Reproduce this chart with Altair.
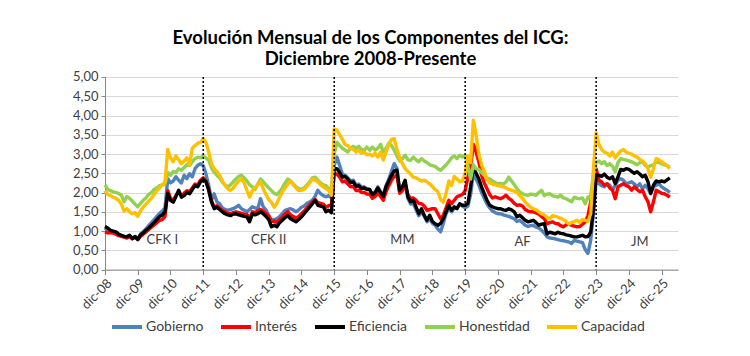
import json
import altair as alt
import pandas as pd

TITLE = ["Evolución Mensual de los Componentes del ICG:", "Diciembre 2008-Presente"]
SERIES = ["Gobierno", "Interés", "Eficiencia", "Honestidad", "Capacidad"]
COLORS = ["#4F81BD", "#FF0000", "#000000", "#92D050", "#FFC000"]
YEAR_TICKS = ["dic-08", "dic-09", "dic-10", "dic-11", "dic-12", "dic-13", "dic-14", "dic-15", "dic-16",
              "dic-17", "dic-18", "dic-19", "dic-20", "dic-21", "dic-22", "dic-23", "dic-24", "dic-25"]
PERIODS = ["CFK I", "CFK II", "MM", "AF", "JM"]
PERIOD_MONTH = [21, 60, 109, 153, 196]
PERIOD_VALUE = [0.76, 0.76, 0.78, 0.72, 0.72]
CHANGE_MONTHS = [36, 84, 132, 180]

# monthly values, dic-08 then ene..dic of each year 2009-2025, then ene-mar 2026
gobierno = [1.08,
    1.02, 1.00, 0.98, 0.96, 0.90, 0.88, 0.86, 0.84, 0.88, 0.82, 0.86, 0.80,
    0.92, 0.98, 1.06, 1.14, 1.22, 1.30, 1.38, 1.46, 1.52, 1.60, 2.36, 2.25,
    2.30, 2.41, 2.32, 2.25, 2.45, 2.36, 2.49, 2.41, 2.62, 2.71, 2.75, 2.70,
    2.48, 2.19, 1.80, 1.97, 1.76, 1.71, 1.60, 1.56, 1.54, 1.56, 1.58, 1.62,
    1.67, 1.58, 1.54, 1.50, 1.56, 1.63, 1.60, 1.58, 1.84, 1.63, 1.55, 1.40,
    1.28, 1.30, 1.32, 1.38, 1.45, 1.54, 1.56, 1.58, 1.55, 1.50, 1.55, 1.62,
    1.65, 1.72, 1.75, 1.80, 1.90, 2.06, 1.97, 1.92, 1.89, 1.92, 1.86, 2.70,
    2.92, 2.70, 2.48, 2.45, 2.38, 2.30, 2.32, 2.20, 2.22, 2.14, 2.15, 2.10,
    2.08, 1.95, 2.02, 2.15, 2.02, 1.95, 2.18, 2.35, 2.55, 2.75, 2.62, 2.00,
    2.10, 2.25, 1.85, 1.70, 1.72, 1.55, 1.40, 1.50, 1.38, 1.24, 1.32, 1.20,
    1.15, 1.05, 0.98, 1.20, 1.45, 1.60, 1.50, 1.58, 1.60, 1.70, 1.65, 1.60,
    1.65, 1.95, 2.50, 2.35, 2.20, 2.00, 1.85, 1.70, 1.60, 1.52, 1.48, 1.45,
    1.45, 1.42, 1.40, 1.38, 1.35, 1.32, 1.25, 1.28, 1.22, 1.15, 1.12, 1.14,
    1.15, 1.10, 1.08, 1.02, 0.95, 0.85, 0.82, 0.81, 0.80, 0.78, 0.76, 0.75,
    0.73, 0.72, 0.68, 0.76, 0.74, 0.72, 0.70, 0.52, 0.42, 0.76, 1.45, 2.30,
    2.23, 2.18, 2.15, 2.23, 2.19, 2.06, 2.19, 2.32, 2.36, 2.32, 2.23, 2.25,
    2.28, 2.22, 2.15, 2.23, 2.10, 2.19, 2.10, 1.97, 2.15, 2.19, 2.23, 2.15,
    2.10, 2.06, 2.00]

interes = [0.98,
    0.95, 0.96, 0.95, 0.92, 0.88, 0.86, 0.84, 0.82, 0.86, 0.80, 0.84, 0.78,
    0.86, 0.92, 0.98, 1.04, 1.10, 1.16, 1.22, 1.28, 1.30, 1.38, 2.05, 1.85,
    1.80, 1.92, 2.02, 1.92, 1.98, 2.05, 2.02, 2.12, 2.22, 2.20, 2.32, 2.38,
    2.30, 2.10, 1.80, 1.62, 1.66, 1.60, 1.54, 1.50, 1.46, 1.45, 1.48, 1.50,
    1.48, 1.46, 1.44, 1.43, 1.32, 1.50, 1.48, 1.52, 1.56, 1.52, 1.45, 1.40,
    1.25, 1.26, 1.22, 1.30, 1.36, 1.44, 1.50, 1.42, 1.38, 1.34, 1.38, 1.45,
    1.52, 1.60, 1.68, 1.76, 1.82, 1.74, 1.72, 1.70, 1.62, 1.66, 1.68, 2.50,
    2.48, 2.40, 2.28, 2.30, 2.22, 2.15, 2.16, 2.05, 2.06, 2.00, 2.00, 1.96,
    1.96, 1.85, 1.90, 2.00, 1.90, 1.80, 2.02, 2.18, 2.32, 2.42, 2.45, 1.98,
    2.05, 2.20, 1.95, 1.84, 1.86, 1.80, 1.72, 1.71, 1.65, 1.54, 1.56, 1.58,
    1.58, 1.45, 1.32, 1.41, 1.60, 1.80, 1.71, 1.80, 1.89, 1.92, 1.95, 2.05,
    2.40, 2.67, 3.25, 3.05, 2.80, 2.45, 2.25, 2.10, 1.95, 1.86, 1.89, 1.86,
    1.84, 1.88, 1.93, 1.85, 1.80, 1.72, 1.67, 1.68, 1.65, 1.56, 1.52, 1.50,
    1.50, 1.47, 1.44, 1.38, 1.32, 1.19, 1.22, 1.24, 1.20, 1.19, 1.14, 1.11,
    1.16, 1.19, 1.15, 1.13, 1.11, 1.12, 1.18, 1.24, 1.40, 1.75, 2.20, 2.62,
    2.32, 2.28, 2.19, 2.23, 2.12, 2.06, 1.84, 2.15, 2.19, 2.23, 2.18, 2.15,
    2.06, 2.15, 2.08, 2.02, 2.06, 1.89, 1.76, 1.50, 1.76, 2.06, 2.02, 1.98,
    1.97, 1.93, 1.88]

eficiencia = [1.12,
    1.08, 1.02, 1.00, 0.98, 0.92, 0.89, 0.86, 0.85, 0.89, 0.80, 0.86, 0.78,
    0.90, 0.95, 1.02, 1.08, 1.15, 1.22, 1.30, 1.38, 1.42, 1.50, 1.98, 1.80,
    1.75, 1.90, 2.06, 1.88, 1.92, 2.00, 1.97, 2.08, 2.18, 2.15, 2.28, 2.34,
    2.28, 2.06, 1.76, 1.58, 1.62, 1.56, 1.50, 1.45, 1.42, 1.40, 1.44, 1.45,
    1.42, 1.40, 1.38, 1.37, 1.24, 1.45, 1.42, 1.45, 1.50, 1.45, 1.38, 1.30,
    1.11, 1.15, 1.11, 1.22, 1.28, 1.35, 1.40, 1.32, 1.28, 1.24, 1.30, 1.37,
    1.45, 1.54, 1.62, 1.71, 1.80, 1.67, 1.65, 1.63, 1.50, 1.54, 1.48, 2.62,
    2.62, 2.52, 2.40, 2.42, 2.35, 2.26, 2.28, 2.16, 2.18, 2.10, 2.12, 2.08,
    2.08, 1.95, 2.00, 2.12, 2.00, 1.90, 2.15, 2.30, 2.45, 2.56, 2.58, 2.06,
    2.15, 2.32, 1.89, 1.76, 1.80, 1.63, 1.45, 1.58, 1.41, 1.28, 1.41, 1.25,
    1.19, 1.15, 1.20, 1.32, 1.50, 1.67, 1.54, 1.63, 1.58, 1.71, 1.67, 1.67,
    1.72, 2.15, 2.68, 2.50, 2.36, 2.15, 1.97, 1.80, 1.67, 1.63, 1.60, 1.58,
    1.58, 1.55, 1.54, 1.58, 1.55, 1.50, 1.37, 1.41, 1.35, 1.28, 1.24, 1.26,
    1.28, 1.22, 1.15, 1.18, 1.19, 0.93, 0.97, 0.95, 0.93, 0.97, 0.94, 0.93,
    0.90, 0.89, 0.87, 0.85, 0.85, 0.87, 0.89, 0.85, 0.86, 0.97, 1.55, 2.45,
    2.45, 2.42, 2.48, 2.40, 2.36, 2.41, 2.23, 2.41, 2.60, 2.58, 2.62, 2.60,
    2.55, 2.50, 2.54, 2.48, 2.41, 2.45, 2.28, 1.98, 2.19, 2.30, 2.28, 2.30,
    2.28, 2.33, 2.38]

honestidad = [2.20,
    2.08, 2.05, 2.02, 2.00, 1.98, 1.93, 1.76, 1.90, 1.85, 1.78, 1.70, 1.63,
    1.72, 1.80, 1.86, 1.95, 2.00, 2.08, 2.12, 2.18, 2.20, 2.22, 2.52, 2.45,
    2.55, 2.52, 2.62, 2.58, 2.65, 2.72, 2.70, 2.80, 2.88, 2.92, 2.90, 2.95,
    2.90, 2.84, 2.65, 2.53, 2.45, 2.38, 2.28, 2.20, 2.15, 2.20, 2.28, 2.35,
    2.42, 2.45, 2.38, 2.30, 2.20, 2.15, 2.08, 2.22, 2.35, 2.28, 2.20, 2.12,
    2.05, 1.98, 1.95, 2.02, 2.12, 2.25, 2.35, 2.30, 2.22, 2.15, 2.10, 2.08,
    2.12, 2.20, 2.28, 2.38, 2.40, 2.32, 2.25, 2.20, 2.18, 2.10, 2.05, 3.00,
    3.30, 3.22, 3.15, 3.10, 3.05, 3.15, 3.20, 3.15, 3.20, 3.12, 3.10, 3.18,
    3.10, 3.18, 3.10, 3.15, 3.25, 3.05, 3.15, 3.28, 3.22, 3.10, 2.95, 2.82,
    2.88, 2.97, 2.85, 2.84, 2.92, 2.85, 2.80, 2.88, 2.82, 2.78, 2.72, 2.70,
    2.68, 2.62, 2.58, 2.65, 2.72, 2.80, 2.90, 2.95, 2.88, 2.97, 2.92, 2.97,
    2.70, 2.35, 2.72, 2.62, 2.60, 2.52, 2.45, 2.38, 2.35, 2.30, 2.26, 2.23,
    2.24, 2.22, 2.28, 2.40, 2.30, 2.20, 2.10, 2.02, 1.97, 1.94, 1.93, 1.96,
    1.95, 1.93, 2.00, 2.06, 1.92, 1.96, 1.97, 1.92, 1.90, 1.88, 1.93, 1.86,
    1.84, 1.80, 1.76, 1.88, 1.85, 1.84, 1.86, 1.71, 1.88, 1.92, 2.45, 2.78,
    2.82, 2.75, 2.80, 2.70, 2.75, 2.68, 2.54, 2.78, 2.88, 2.86, 2.84, 2.82,
    2.80, 2.76, 2.72, 2.78, 2.80, 2.70, 2.66, 2.70, 2.72, 2.80, 2.78, 2.75,
    2.72, 2.70, 2.66]

capacidad = [2.05,
    1.95, 1.92, 1.88, 1.85, 1.80, 1.70, 1.52, 1.58, 1.50, 1.45, 1.48, 1.38,
    1.52, 1.62, 1.70, 1.78, 1.85, 1.95, 2.05, 2.12, 2.20, 2.28, 3.12, 2.90,
    2.80, 2.95, 2.85, 2.75, 2.82, 2.90, 2.72, 3.15, 3.22, 3.28, 3.30, 3.40,
    3.30, 3.05, 2.75, 2.62, 2.55, 2.45, 2.30, 2.18, 2.10, 2.06, 2.12, 2.22,
    2.30, 2.36, 2.25, 2.06, 1.88, 2.05, 2.12, 2.20, 2.28, 2.10, 1.95, 1.82,
    1.75, 1.62, 1.72, 1.88, 2.02, 2.12, 2.22, 2.30, 2.20, 2.12, 2.05, 2.06,
    2.08, 2.17, 2.25, 2.35, 2.32, 2.28, 2.20, 2.15, 2.10, 2.05, 1.93, 3.65,
    3.62, 3.50, 3.38, 3.25, 3.22, 3.15, 3.12, 3.05, 3.10, 3.02, 3.05, 2.98,
    3.00, 2.95, 3.02, 2.92, 3.05, 2.85, 3.05, 3.25, 3.38, 3.40, 3.12, 2.90,
    2.75, 2.62, 2.55, 2.48, 2.40, 2.38, 2.34, 2.30, 2.32, 2.28, 2.22, 2.15,
    2.08, 2.02, 1.82, 1.75, 1.98, 2.30, 2.18, 2.42, 2.35, 2.28, 2.30, 2.50,
    2.95, 2.78, 3.88, 3.50, 3.00, 2.72, 2.55, 2.35, 2.25, 2.22, 2.20, 2.18,
    2.17, 2.15, 2.12, 2.08, 2.06, 2.04, 2.00, 1.92, 1.85, 1.76, 1.68, 1.62,
    1.58, 1.55, 1.50, 1.45, 1.42, 1.35, 1.32, 1.40, 1.38, 1.36, 1.33, 1.30,
    1.25, 1.18, 1.22, 1.25, 1.28, 1.22, 1.30, 1.28, 1.25, 1.45, 2.60, 3.55,
    3.25, 3.12, 3.05, 3.02, 2.95, 3.05, 2.90, 3.00, 3.08, 3.12, 3.05, 3.02,
    3.00, 2.95, 2.92, 2.86, 2.82, 2.75, 2.62, 2.40, 2.62, 2.88, 2.85, 2.80,
    2.75, 2.70, 2.62]

values = [gobierno, interes, eficiencia, honestidad, capacidad]
rows = []
for name, vals in zip(SERIES, values):
    for i, v in enumerate(vals):
        rows.append({"mes": i, "serie": name, "valor": v})
df = pd.DataFrame(rows)

FONT = "Lato"
GRAY = "#404040"

x_scale = alt.Scale(domain=[0, 210], nice=False, zero=False)
y_scale = alt.Scale(domain=[0, 5], nice=False)

x_axis = alt.Axis(values=list(range(0, 205, 12)), title=None, grid=False,
                  labelExpr=json.dumps(YEAR_TICKS) + "[round(datum.value/12)]",
                  labelAngle=-45, labelFont=FONT, labelFontSize=13, labelColor=GRAY,
                  labelOverlap=False, domainColor="#868686", tickColor="#868686",
                  tickSize=5, labelPadding=2)
y_axis = alt.Axis(values=[i * 0.5 for i in range(11)], title=None,
                  labelExpr="replace(format(datum.value, '.2f'), '.', ',')",
                  labelFont=FONT, labelFontSize=13, labelColor=GRAY, labelOverlap=False,
                  gridColor="#d9d9d9", domainColor="#868686", tickColor="#868686",
                  tickSize=4, labelPadding=3)

X = alt.X("mes:Q", scale=x_scale, axis=x_axis)
Y = alt.Y("valor:Q", scale=y_scale, axis=y_axis)

lines = alt.Chart(df).mark_line(strokeWidth=3.4, strokeJoin="round").encode(
    x=X, y=Y,
    color=alt.Color("serie:N", sort=SERIES,
                    scale=alt.Scale(domain=SERIES, range=COLORS),
                    legend=alt.Legend(title=None, orient="none", direction="horizontal",
                                      legendX=5, legendY=233, symbolType="stroke",
                                      symbolSize=900, symbolStrokeWidth=4,
                                      labelFont=FONT, labelFontSize=14, labelColor=GRAY,
                                      labelOffset=2, columnPadding=9)),
)

rules = alt.Chart(pd.DataFrame({"mes": CHANGE_MONTHS})).mark_rule(
    color="#000000", strokeDash=[2, 2], strokeWidth=1.5
).encode(x=X)

labels = alt.Chart(pd.DataFrame({"mes": PERIOD_MONTH, "valor": PERIOD_VALUE, "txt": PERIODS})).mark_text(
    font=FONT, fontSize=13, color=GRAY
).encode(x=X, y=Y, text="txt:N")

chart = alt.layer(lines, rules, labels).properties(
    width=573, height=192.6,
    title=alt.TitleParams(text=TITLE, font=FONT, fontSize=18.5, fontWeight="bold",
                          color="#000000", anchor="middle", dx=-21, offset=2,
                          lineHeight=21),
    padding={"left": 97, "top": 69, "right": 64, "bottom": 78},
    autosize="none",
).configure_view(stroke=None)

chart.save("out.html", embed_options={"renderer": "svg", "actions": False})
